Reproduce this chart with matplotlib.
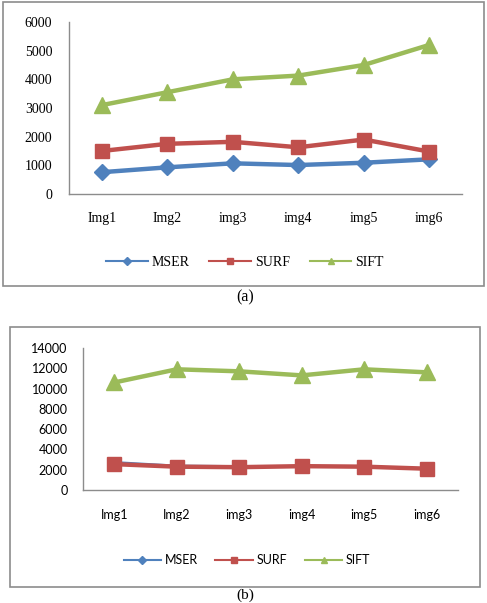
import matplotlib
matplotlib.use("Agg")
import matplotlib.pyplot as plt
from matplotlib.lines import Line2D
from matplotlib.patches import Rectangle

categories = ["Img1", "Img2", "img3", "img4", "img5", "img6"]
series_names = ["MSER", "SURF", "SIFT"]

a_mser = [760, 930, 1070, 1010, 1090, 1210]
a_surf = [1500, 1750, 1820, 1630, 1900, 1480]
a_sift = [3100, 3550, 4000, 4130, 4500, 5200]

b_mser = [2750, 2400, 2350, 2300, 2300, 2150]
b_surf = [2550, 2300, 2250, 2350, 2300, 2100]
b_sift = [10600, 11900, 11700, 11300, 11900, 11600]

a_yticks = [0, 1000, 2000, 3000, 4000, 5000, 6000]
b_yticks = [0, 2000, 4000, 6000, 8000, 10000, 12000, 14000]

colors = ["#4F81BD", "#C0504D", "#9BBB59"]
markers = ["D", "s", "^"]

W, H = 487, 603
fig = plt.figure(figsize=(W / 100, H / 100), dpi=100)

def px_axes(left, right, top, bottom):
    return fig.add_axes([left / W, 1 - bottom / H, (right - left) / W, (bottom - top) / H])

def frame(left, right, top, bottom):
    fig.patches.append(Rectangle((left / W, 1 - bottom / H), (right - left) / W, (bottom - top) / H,
                                 transform=fig.transFigure, fill=False, edgecolor="#8c8c8c",
                                 linewidth=1.2))

def panel(ax, data, yticks, family, fsize, xpad, ypad, blue_lw, msizes):
    x = list(range(len(categories)))
    for i, (vals, name) in enumerate(zip(data, series_names)):
        lw = blue_lw if (i == 0) else 3.2
        ax.plot(x, vals, color=colors[i], marker=markers[i], markersize=msizes[i],
                linewidth=lw, label=name, zorder=3 + i)
    ax.set_xlim(-0.5, len(categories) - 0.5)
    ax.set_ylim(yticks[0], yticks[-1])
    ax.set_yticks(yticks)
    ax.set_xticks(x)
    ax.set_xticklabels(categories, family=family, fontsize=fsize)
    ax.set_yticklabels([str(t) for t in yticks], family=family, fontsize=fsize)
    for s in ["top", "right"]:
        ax.spines[s].set_visible(False)
    for s in ["left", "bottom"]:
        ax.spines[s].set_color("#8c8c8c")
        ax.spines[s].set_linewidth(1.0)
    ax.tick_params(axis="both", length=0)
    ax.tick_params(axis="x", pad=xpad)
    ax.tick_params(axis="y", pad=ypad)
    ax.patch.set_alpha(0)

def legend(cx, cy, family, fsize):
    handles = [Line2D([], [], color=colors[i], marker=markers[i], markersize=5 if i else 4.5,
                      linewidth=1.5) for i in range(3)]
    fig.legend(handles, series_names, loc="center", bbox_to_anchor=(cx / W, 1 - cy / H),
               ncol=3, frameon=False, prop={"family": family, "size": fsize},
               handlelength=3.0, handletextpad=0.3, columnspacing=1.4, borderpad=0)

# Panel (a)
frame(3, 484, 2, 286)
ax1 = px_axes(69, 462, 22, 194)
panel(ax1, [a_mser, a_surf, a_sift], a_yticks, "Liberation Serif", 10, 13, 12, 3.2, [8, 10, 11])
legend(245, 262, "Liberation Serif", 10)
fig.text(245 / W, 1 - 297 / H, "(a)", ha="center", va="center", family="Liberation Serif", fontsize=11.5)

# Panel (b)
frame(10, 480, 327, 587)
ax2 = px_axes(83, 458, 348, 490)
panel(ax2, [b_mser, b_surf, b_sift], b_yticks, "Lato", 9, 14, 11, 1.5, [5, 10, 11])
legend(247, 560, "Lato", 9)
fig.text(245 / W, 1 - 595 / H, "(b)", ha="center", va="center", family="Liberation Serif", fontsize=11)

fig.savefig("out.png", dpi=100)
